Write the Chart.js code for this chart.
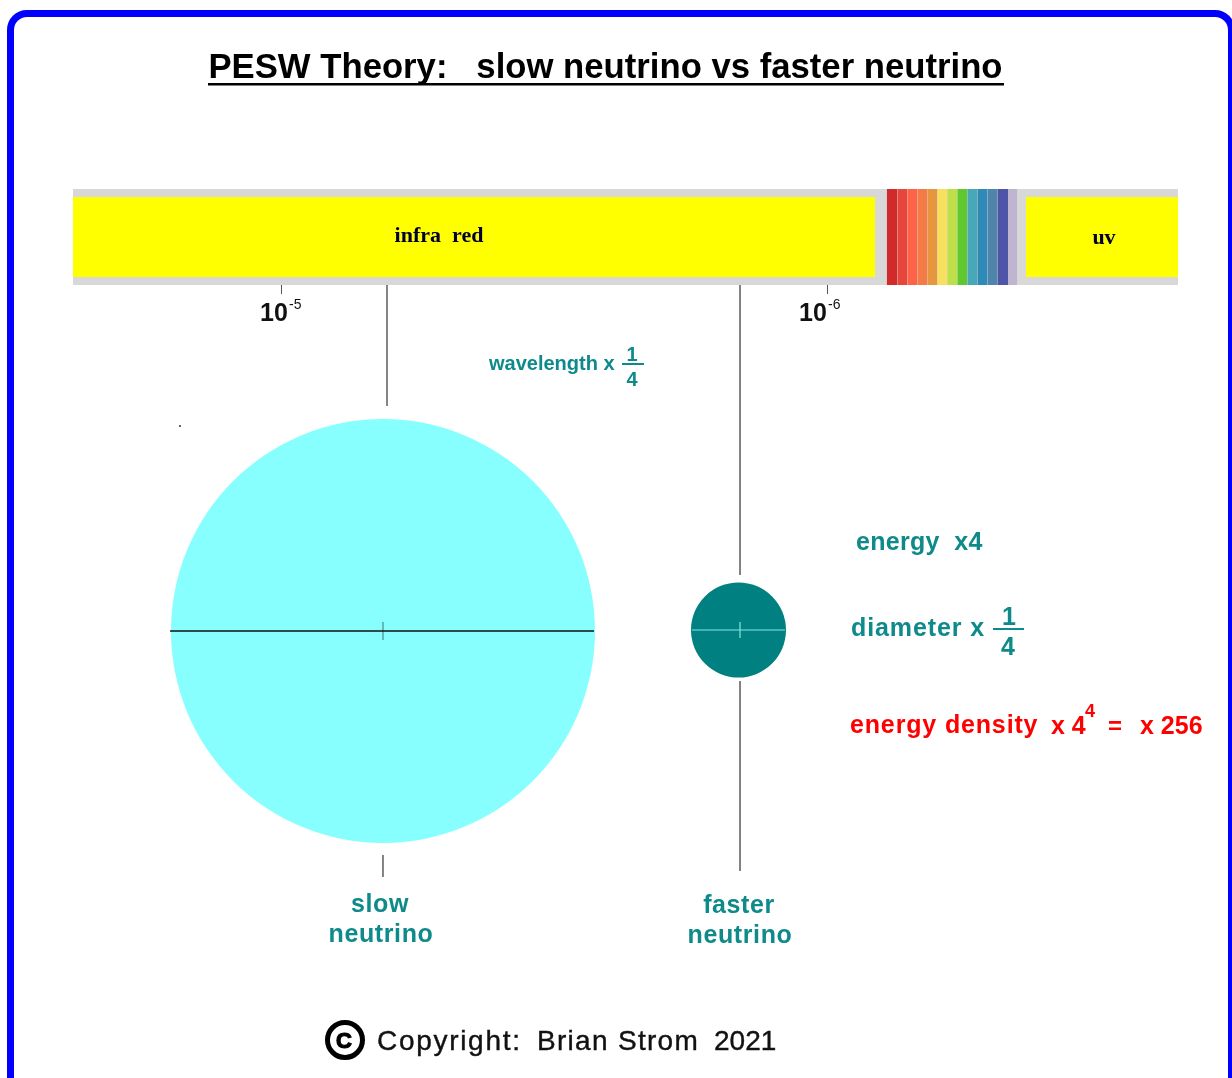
<!DOCTYPE html>
<html>
<head>
<meta charset="utf-8">
<title>PESW Theory</title>
<script src="https://cdn.jsdelivr.net/npm/chart.js@4/dist/chart.umd.js"></script>
<style>
  html, body { margin: 0; padding: 0; background: #fff; overflow: hidden; }
  #page { position: relative; width: 1232px; height: 1078px; overflow: hidden; }
  #frame { position: absolute; left: 7px; top: 10px; width: 1228px; height: 1100px; box-sizing: border-box; border: 7px solid #0000ff; border-radius: 20px; }
  #pesw { position: absolute; left: 0; top: 0; filter: blur(0.5px); }
</style>
</head>
<body>
<div id="page">
  <div id="frame"></div>
  <canvas id="pesw" width="1232" height="1078"></canvas>
</div>
<script>
// x axis = wavelength exponent (10^-x), y axis = row down the page
const tickExponents = [5, 6];
const tickBase = ['10', '10'];
const tickPowers = ['-5', '-6'];

const spectrumEdges = [6.1096, 6.129, 6.1473, 6.1657, 6.184, 6.2024, 6.2207, 6.2391, 6.2574, 6.2758, 6.2941, 6.3125, 6.3321, 6.3492];
const spectrumColors = ['#d02a2a', '#e8453c', '#ff6347', '#f47b45', '#e6963f', '#f6e05e', '#bde04a', '#5fc82e', '#48a8b8', '#2e8bb8', '#4f85ab', '#4e55a8', '#bfb5d0'];

const greyBar = [4.6165, 6.644];
const infraRedBar = [4.6165, 6.0881];
const uvBar = [6.3651, 6.644];

const slowCircle = { x: 5.1853, y: 631, r: 212 };
const fastCircle = { x: 5.8376, y: 630, r: 47.5 };
const copyrightRing = { x: 5.1156, y: 1040, r: 17.5 };
const strayDot = { x: 4.8128, y: 426, r: 1 };

const darkLines = [
  [[5.1927, 285], [5.1927, 406]],
  [[5.1853, 855], [5.1853, 877]],
  [[5.8404, 285], [5.8404, 575]],
  [[5.8404, 681], [5.8404, 871]],
];
const slowAxisLines = [
  [[4.7945, 631], [5.5725, 631]],
];
const slowCrossLines = [
  [[5.1853, 622], [5.1853, 640]],
];
const fastAxisLines = [
  [[5.7523, 630], [5.9229, 630]],
  [[5.8404, 622], [5.8404, 638]],
];
const fractionBars = [
  [[5.6239, 364], [5.6642, 364]],
  [[6.3046, 629], [6.3615, 629]],
];

const titleText = 'PESW Theory:   slow neutrino vs faster neutrino';
const bandNames = ['infra  red', 'uv'];
const slowName = ['slow', 'neutrino'];
const fastName = ['faster', 'neutrino'];

const TEAL = '#0e8a8a';
const RED = '#ff0000';
const SANS = '"Liberation Sans", Arial, sans-serif';
const SERIF = '"Liberation Serif", serif';

const pageLabels = [
  { text: titleText, x: 605.5, y: 78, font: 'bold 34.7px ' + SANS, color: '#000' },
  { text: bandNames[0], x: 439, y: 242, font: 'bold 22px ' + SERIF, color: '#000033' },
  { text: bandNames[1], x: 1104, y: 244, font: 'bold 22px ' + SERIF, color: '#000033' },
  { text: 'wavelength x', x: 489, y: 370, font: 'bold 20px ' + SANS, color: TEAL, align: 'left' },
  { text: '1', x: 632, y: 361, font: 'bold 20px ' + SANS, color: TEAL },
  { text: '4', x: 632, y: 386, font: 'bold 20px ' + SANS, color: TEAL },
  { text: 'energy  x4', x: 856, y: 550, font: 'bold 25px ' + SANS, color: TEAL, align: 'left', spacing: 0.3 },
  { text: 'diameter x', x: 851, y: 636, font: 'bold 25px ' + SANS, color: TEAL, align: 'left', spacing: 0.9 },
  { text: '1', x: 1009, y: 625, font: 'bold 25px ' + SANS, color: TEAL },
  { text: '4', x: 1008, y: 655, font: 'bold 25px ' + SANS, color: TEAL },
  { text: 'energy density', x: 850, y: 733, font: 'bold 25px ' + SANS, color: RED, align: 'left', spacing: 0.85 },
  { text: 'x 4', x: 1051, y: 734, font: 'bold 25px ' + SANS, color: RED, align: 'left' },
  { text: '4', x: 1085, y: 717, font: 'bold 18px ' + SANS, color: RED, align: 'left' },
  { text: '=', x: 1108, y: 734, font: 'bold 24px ' + SANS, color: RED, align: 'left' },
  { text: 'x 256', x: 1140, y: 734, font: 'bold 25px ' + SANS, color: RED, align: 'left' },
  { text: slowName[0], x: 380, y: 912, font: 'bold 25px ' + SANS, color: TEAL, spacing: 0.6 },
  { text: slowName[1], x: 381, y: 942, font: 'bold 25px ' + SANS, color: TEAL, spacing: 0.6 },
  { text: fastName[0], x: 739, y: 913, font: 'bold 25px ' + SANS, color: TEAL, spacing: 0.6 },
  { text: fastName[1], x: 740, y: 943, font: 'bold 25px ' + SANS, color: TEAL, spacing: 0.6 },
  { text: 'C', x: 344, y: 1048, font: 'bold 22px ' + SANS, color: '#000', stroke: 1.2 },
  { text: 'Copyright:', x: 377, y: 1050, font: '28px ' + SANS, color: '#111', align: 'left', spacing: 1.7, stroke: 0.4 },
  { text: 'Brian Strom', x: 537, y: 1050, font: '28px ' + SANS, color: '#111', align: 'left', spacing: 1.3, stroke: 0.4 },
  { text: '2021', x: 714, y: 1050, font: '28px ' + SANS, color: '#111', align: 'left', stroke: 0.4 },
];

// where each tick's "10" starts, measured from its tick mark
const tickLabelOffsets = [-22, -28];

function bandDataset(range, top, bottom, color) {
  return {
    type: 'line',
    data: [{ x: range[0], y: top }, { x: range[1], y: top }],
    borderWidth: 0,
    pointRadius: 0,
    backgroundColor: color,
    fill: { target: { value: bottom } },
  };
}

function lineDataset(points, color, width) {
  return {
    type: 'line',
    data: points.map((p) => ({ x: p[0], y: p[1] })),
    borderColor: color,
    borderWidth: width,
    pointRadius: 0,
    fill: false,
  };
}

function circleDataset(circle, fillColor, borderColor, borderWidth) {
  return {
    type: 'bubble',
    data: [circle],
    backgroundColor: fillColor,
    borderColor: borderColor,
    borderWidth: borderWidth,
  };
}

const spectrumDatasets = spectrumColors.map((color, i) =>
  bandDataset([spectrumEdges[i], spectrumEdges[i + 1]], 189, 285, color)
);

// chart.js paints the first dataset last, so the top layer comes first here
const datasets = [
  ...slowAxisLines.map((line) => lineDataset(line, '#111', 1.6)),
  ...slowCrossLines.map((line) => lineDataset(line, '#4a8a8a', 1.2)),
  ...fastAxisLines.map((line) => lineDataset(line, '#7fe8e0', 1.2)),
  ...fractionBars.map((line) => lineDataset(line, TEAL, 2)),
  ...darkLines.map((line) => lineDataset(line, '#333', 1.2)),
  circleDataset(slowCircle, '#88ffff', '#88ffff', 0),
  circleDataset(fastCircle, '#008080', '#008080', 0),
  circleDataset(copyrightRing, '#fff', '#000', 5),
  circleDataset(strayDot, '#333', '#333', 0),
  ...spectrumDatasets,
  bandDataset(infraRedBar, 197, 277, '#ffff00'),
  bandDataset(uvBar, 197, 277, '#ffff00'),
  bandDataset(greyBar, 189, 285, '#d8d8d8'),
];

const pageText = {
  id: 'pageText',
  afterDraw(chart) {
    const ctx = chart.ctx;
    const xScale = chart.scales.x;
    ctx.save();
    ctx.textBaseline = 'alphabetic';
    pageLabels.forEach((label) => {
      ctx.font = label.font;
      ctx.fillStyle = label.color;
      ctx.strokeStyle = label.color;
      ctx.textAlign = label.align || 'center';
      ctx.letterSpacing = (label.spacing || 0) + 'px';
      ctx.fillText(label.text, label.x, label.y);
      if (label.stroke) {
        ctx.lineWidth = label.stroke;
        ctx.strokeText(label.text, label.x, label.y);
      }
    });
    ctx.letterSpacing = '0px';

    // title underline
    ctx.fillStyle = '#000';
    ctx.fillRect(208, 83, 796, 2.5);

    // axis labels with the small power next to them
    tickExponents.forEach((value, i) => {
      const px = xScale.getPixelForValue(value) + tickLabelOffsets[i];
      ctx.textAlign = 'left';
      ctx.fillStyle = '#111';
      ctx.font = 'bold 25px ' + SANS;
      ctx.fillText(tickBase[i], px, 321);
      ctx.font = '14px ' + SANS;
      ctx.fillText(tickPowers[i], px + 29, 309);
    });
    ctx.restore();
  },
};

new Chart(document.getElementById('pesw'), {
  type: 'scatter',
  data: { datasets },
  plugins: [pageText],
  options: {
    responsive: false,
    animation: false,
    events: [],
    layout: { padding: 0, autoPadding: false },
    plugins: {
      legend: { display: false },
      title: { display: false },
      tooltip: { enabled: false },
    },
    elements: { line: { tension: 0 } },
    scales: {
      x: {
        type: 'linear',
        min: 4.4826,
        max: 6.7431,
        position: { y: 285 },
        afterBuildTicks(axis) {
          axis.ticks = tickExponents.map((value) => ({ value }));
        },
        ticks: { display: false },
        border: { display: false },
        grid: { drawOnChartArea: false, tickLength: 9, tickColor: '#555', tickWidth: 1 },
      },
      y: {
        type: 'linear',
        display: false,
        reverse: true,
        min: 0,
        max: 1078,
      },
    },
  },
});
</script>
</body>
</html>
